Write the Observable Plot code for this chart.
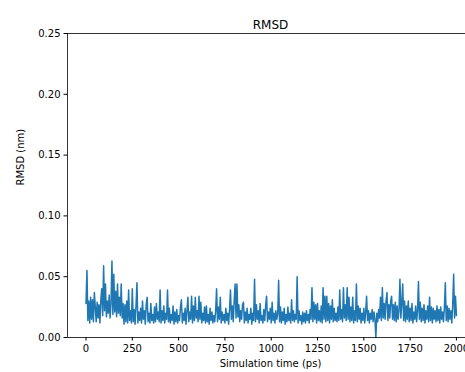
<!DOCTYPE html>
<html>
<head>
<meta charset="utf-8">
<script src="https://cdn.jsdelivr.net/npm/d3@7"></script>
<script src="https://cdn.jsdelivr.net/npm/@observablehq/plot@0.6"></script>
<style>
  html, body { margin: 0; padding: 0; background: #fff; }
  #chart { width: 465px; height: 372px; overflow: hidden; }
</style>
</head>
<body>
<div id="chart"></div>
<script>
// Title and labels
const title = "RMSD";
const xLabel = "Simulation time (ps)";
const yLabel = "RMSD (nm)";

// Tick values
const xTicks = [0, 250, 500, 750, 1000, 1250, 1500, 1750, 2000];
const yTicks = [0.00, 0.05, 0.10, 0.15, 0.20, 0.25];

// Sampling step of the trajectory (ps)
const stepPs = 5;

// RMSD readings, in units of 0.001 nm, one every 5 ps from 0 to 2000 ps
const rmsdMilliNm = [
  28,55,14,30,12,33,15,31,13,37,
  25,13,29,16,27,12,31,40,18,59,
  22,44,17,30,20,35,16,28,63,19,
  52,21,38,17,44,20,33,18,44,16,
  28,11,27,13,30,12,39,14,22,12,
  40,13,23,11,26,45,12,21,14,24,
  12,30,15,22,11,27,33,13,20,12,
  28,14,19,12,25,13,28,15,21,13,
  39,12,22,14,26,12,20,15,39,13,
  24,12,19,14,26,11,21,13,23,12,
  18,14,25,31,12,20,14,24,11,22,
  33,13,21,15,34,12,26,14,33,16,
  22,13,34,15,29,12,20,14,25,12,
  26,13,19,11,24,14,21,12,18,13,
  22,40,13,25,15,33,12,21,14,19,
  12,24,14,20,11,23,39,15,26,13,
  30,44,16,44,17,27,13,22,15,27,
  29,12,21,14,24,12,19,15,24,11,
  20,14,48,13,27,15,22,12,28,14,
  18,12,23,14,26,34,13,21,15,24,
  12,29,14,20,12,22,15,19,47,13,
  25,12,21,14,24,11,19,13,25,14,
  20,12,31,14,22,13,19,15,50,12,
  22,14,18,11,21,13,20,12,22,14,
  19,12,23,15,41,13,29,15,27,12,
  28,14,22,13,26,12,41,15,34,13,
  34,14,28,12,26,15,31,13,24,14,
  20,13,25,14,39,15,23,13,41,16,
  27,14,41,15,33,13,25,14,33,12,
  22,14,44,13,26,15,24,12,20,14,
  24,12,21,34,14,22,12,20,15,23,
  13,21,15,0,20,13,23,16,33,14,
  41,16,28,15,30,37,14,27,16,30,
  34,15,27,14,29,13,26,15,22,48,
  16,28,44,14,30,13,26,15,30,13,
  24,14,28,12,21,15,26,13,22,46,
  15,29,13,24,14,27,12,22,15,26,
  13,33,14,25,12,24,15,22,13,26,
  14,23,12,25,15,21,13,24,45,14,
  26,13,24,15,22,12,27,52,16,34,
  18
];

const data = rmsdMilliNm.map((v, i) => ({time: i * stepPs, rmsd: v / 1000}));

const font = "DejaVu Sans, sans-serif";

const plot = Plot.plot({
  width: 465,
  height: 372,
  marginLeft: 67,
  marginRight: 0,
  marginTop: 33,
  marginBottom: 35,
  style: {fontFamily: font, fontSize: "10px", color: "#000", background: "#fff"},
  x: {domain: [-100, 2049]},
  y: {domain: [0, 0.25]},
  marks: [
    Plot.line(data, {x: "time", y: "rmsd", stroke: "#1f77b4", strokeWidth: 1.5, strokeLinejoin: "round"}),
    Plot.ruleY([0.25], {stroke: "#000", strokeWidth: 0.8}),
    Plot.ruleY([0], {stroke: "#000", strokeWidth: 0.8}),
    Plot.ruleX([-100], {stroke: "#000", strokeWidth: 0.8}),
    Plot.axisX({ticks: xTicks, tickSize: 3.5, tickPadding: 3.5, label: null, fontSize: 10, tickFormat: d3.format("d")}),
    Plot.axisY({ticks: yTicks, tickSize: 3.5, tickPadding: 3.5, label: null, fontSize: 10, tickFormat: d3.format(".2f")}),
    Plot.text([title], {frameAnchor: "top", dx: 4, dy: -13, fontSize: 12, fill: "#000"}),
    Plot.text([xLabel], {frameAnchor: "bottom", dx: 4, dy: 29, fontSize: 10, fill: "#000"}),
    Plot.text([yLabel], {frameAnchor: "left", dx: -47, rotate: -90, fontSize: 10, fill: "#000"})
  ]
});

document.getElementById("chart").appendChild(plot);
</script>
</body>
</html>
